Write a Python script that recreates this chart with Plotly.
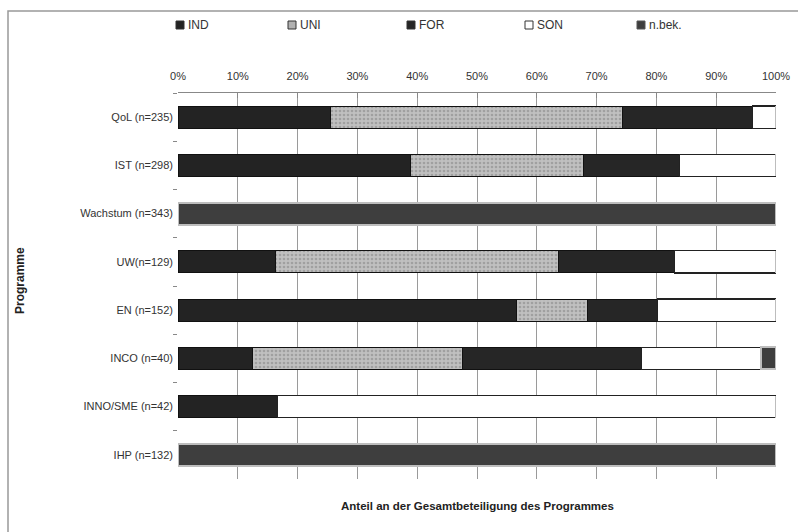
import plotly.graph_objects as go

categories = ["QoL (n=235)", "IST (n=298)", "Wachstum (n=343)", "UW(n=129)",
              "EN (n=152)", "INCO (n=40)", "INNO/SME (n=42)", "IHP (n=132)"]
ind = [25.5, 38.9, 0, 16.3, 56.6, 12.5, 16.7, 0]
uni = [48.9, 28.9, 0, 47.3, 11.8, 35.0, 0, 0]
for_ = [21.7, 16.1, 0, 19.4, 11.8, 30.0, 0, 0]
son = [3.9, 16.1, 0, 17.0, 19.8, 20.0, 83.3, 0]
nbek = [0, 0, 100, 0, 0, 2.5, 0, 100]
series_names = ["IND", "UNI", "FOR", "SON", "n.bek."]
x_ticks = [0, 10, 20, 30, 40, 50, 60, 70, 80, 90, 100]
x_ticklabels = [f"{v}%" for v in x_ticks]

FONT = "Liberation Sans, Arial, sans-serif"

# plot area in pixels (for converting layout decorations to paper coords)
L, R, T, B = 178, 776, 93, 479
W, H = R - L, B - T
def px(x):
    return (x - L) / W
def py(y):
    return (B - y) / H

styles = [
    dict(color="#232323", line=dict(color="#111", width=1)),
    dict(color="#b4b4b4", line=dict(color="#111", width=1),
         pattern=dict(shape=".", fgcolor="#808080", bgcolor="#c0c0c0", size=4, solidity=0.35)),
    dict(color="#262626", line=dict(color="#111", width=1)),
    dict(color="#ffffff", line=dict(color="#222", width=1.2)),
    dict(color="#3e3e3e", line=dict(color="#bdbdbd", width=2)),
]
values = [ind, uni, for_, son, nbek]

fig = go.Figure()
for name, vals, st in zip(series_names, values, styles):
    fig.add_bar(y=categories, x=vals, name=name, orientation="h", marker=st,
                showlegend=False)

# manual legend
legend_x = [176, 288, 407, 525, 637]
legend_fill = ["#232323", "#b0b0b0", "#262626", "#ffffff", "#3e3e3e"]
legend_line = ["#333", "#333", "#333", "#333", "#555"]
shapes = [
    dict(type="rect", xref="paper", yref="paper", x0=px(8), x1=1.1, y0=-0.3, y1=py(11),
         line=dict(color="#999", width=1.5), fillcolor="rgba(0,0,0,0)", layer="below"),
]
annotations = []
for name, lx, fc, lc in zip(series_names, legend_x, legend_fill, legend_line):
    shapes.append(dict(type="rect", xref="paper", yref="paper",
                       x0=px(lx), x1=px(lx + 8), y0=py(29), y1=py(21),
                       fillcolor=fc, line=dict(color=lc, width=1)))
    annotations.append(dict(text=name, xref="paper", yref="paper", x=px(lx + 10), y=py(25),
                            xanchor="left", yanchor="middle", showarrow=False,
                            font=dict(family=FONT, size=12, color="#333")))

annotations += [
    dict(text="<b>Anteil an der Gesamtbeteiligung des Programmes</b>", xref="paper",
         yref="paper", x=0.5, y=py(506), xanchor="center", yanchor="middle",
         showarrow=False, font=dict(family=FONT, size=11.5, color="#222")),
    dict(text="<b>Programme</b>", xref="paper", yref="paper", x=px(20), y=py(281),
         xanchor="center", yanchor="middle", textangle=-90, showarrow=False,
         font=dict(family=FONT, size=12, color="#222")),
]

fig.update_layout(
    barmode="stack",
    bargap=0.54,
    width=798, height=532,
    margin=dict(l=L, r=798 - R, t=T, b=532 - B, autoexpand=False),
    paper_bgcolor="white", plot_bgcolor="white",
    font=dict(family=FONT, size=11, color="#333"),
    showlegend=False,
    xaxis=dict(side="top", range=[0, 100], tickvals=x_ticks, ticktext=x_ticklabels,
               showgrid=True, gridcolor="#9a9a9a", gridwidth=1,
               showline=True, linecolor="#888", linewidth=1,
               ticks="inside", ticklen=5, tickcolor="#888", automargin=False,
               tickfont=dict(family=FONT, size=11, color="#333"), zeroline=False,
               ticklabelstandoff=8),
    yaxis=dict(autorange="reversed", showgrid=False, ticks="outside", ticklen=4,
               tickcolor="#888", tickson="boundaries", showline=False, automargin=False,
               tickfont=dict(family=FONT, size=11, color="#333"), ticklabelstandoff=4),
    annotations=annotations,
    shapes=shapes,
)

fig.write_html("out.html", config={"displayModeBar": False},
               post_script="document.body.style.margin='0';document.body.style.overflow='hidden';")
